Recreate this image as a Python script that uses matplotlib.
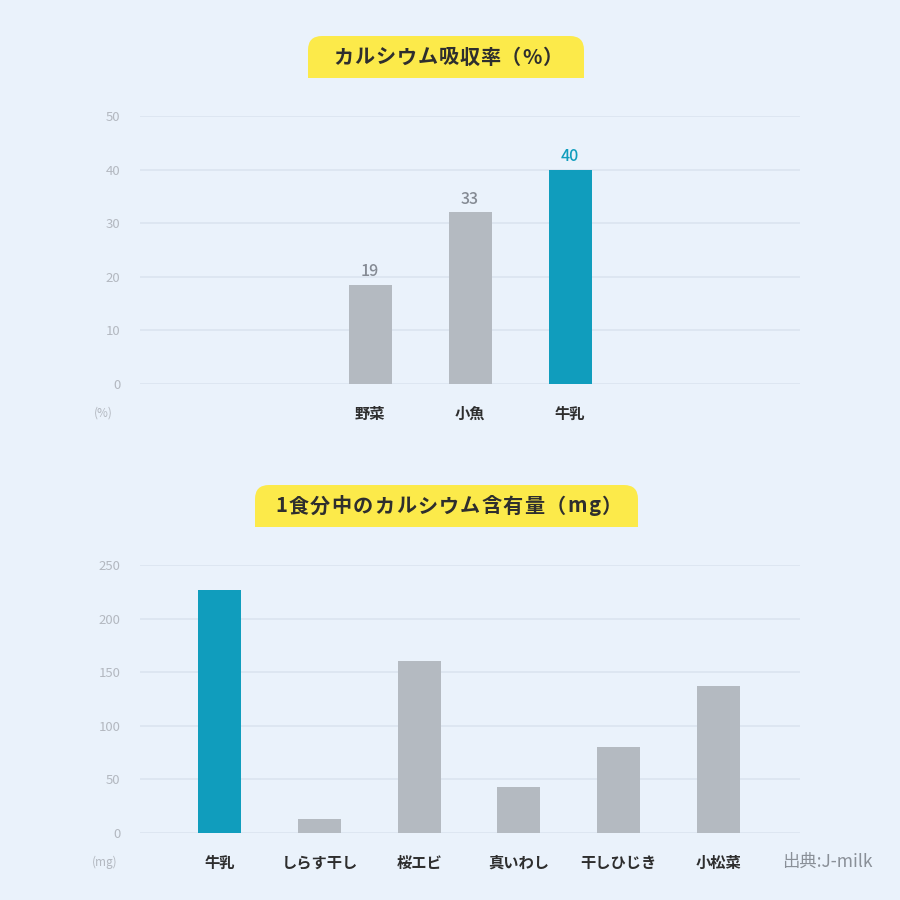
import matplotlib
matplotlib.use('Agg')
import matplotlib.pyplot as plt
from matplotlib.patches import FancyBboxPatch, Rectangle

plt.rcParams['font.family'] = ['Noto Sans CJK JP', 'DejaVu Sans']

# data
rate_cats = ['野菜', '小魚', '牛乳']
rate_vals = [18.5, 32, 40]
rate_labels = ['19', '33', '40']
rate_ticks = [0, 10, 20, 30, 40, 50]

mg_cats = ['牛乳', 'しらす干し', '桜エビ', '真いわし', '干しひじき', '小松菜']
mg_vals = [227, 13, 160, 43, 80, 137]
mg_ticks = [0, 50, 100, 150, 200, 250]

title1 = 'カルシウム吸収率（%）'
title2 = '1食分中のカルシウム含有量（mg）'
source = '出典:J-milk'

# colors
bg = '#eaf2fb'
teal = '#109dbd'
grey = '#b4bac1'
grid_c = '#dbe4ef'
tick_c = '#b3b8c0'
dark = '#2e2e2e'
yellow = '#fcea4a'

W = 900
fig = plt.figure(figsize=(9, 9), dpi=100, facecolor=bg)
renderer = fig.canvas.get_renderer()


def px(x, y):
    return x / W, 1 - y / W


def spaced_text(cx, cy, text, track, **kw):
    # draw char by char with extra tracking (pixels), centred on cx
    items = []
    for ch in text:
        t = fig.text(0, cy, ch, ha='left', va='center', **kw)
        w = t.get_window_extent(renderer).width
        items.append((t, w))
    total = sum(w for _, w in items) + track * (len(items) - 1)
    x = cx * W - total / 2
    for t, w in items:
        t.set_x(x / W)
        x += w + track


def title_box(x0, x1, y0, y1, text, track):
    fx0, fy1 = px(x0, y1)
    fx1, fy0 = px(x1, y0)
    w, h = fx1 - fx0, fy0 - fy1
    r = 14 / W
    fig.patches.append(FancyBboxPatch((fx0, fy1), w, h, boxstyle=f'round,pad=0,rounding_size={r}',
                                      transform=fig.transFigure, fc=yellow, ec='none'))
    fig.patches.append(Rectangle((fx0, fy1), w, h / 2, transform=fig.transFigure, fc=yellow, ec='none'))
    spaced_text((fx0 + fx1) / 2 + 2 / W, (fy0 + fy1) / 2, text, track,
                fontsize=14.5, fontweight='bold', color=dark)


def setup_axes(ax, ticks):
    ax.set_facecolor(bg)
    for s in ax.spines.values():
        s.set_visible(False)
    ax.set_ylim(ticks[0], ticks[-1])
    ax.set_yticks(ticks)
    ax.set_yticklabels([str(t) for t in ticks], color=tick_c, fontsize=9.5)
    ax.tick_params(axis='y', length=0, pad=14)
    ax.tick_params(axis='x', length=0, pad=25)
    for t in ticks:
        ax.axhline(t, color=grid_c, lw=1.2, zorder=0)
    ax.set_axisbelow(True)


def cat_labels(ax, cats):
    ax.set_xticks(range(len(cats)))
    ax.set_xticklabels(cats, fontsize=11, fontweight='bold', color=dark)
    for lab in ax.get_xticklabels():
        lab.set_va('baseline')


# top chart
ax1 = fig.add_axes([140 / W, 1 - 384 / W, 660 / W, 268 / W])
setup_axes(ax1, rate_ticks)
x1 = list(range(len(rate_cats)))
colors1 = [grey, grey, teal]
ax1.bar(x1, rate_vals, width=0.43, color=colors1, zorder=2)
ax1.set_xlim(-2.3, 4.3)
cat_labels(ax1, rate_cats)
for xi, v, lab, c in zip(x1, rate_vals, rate_labels, colors1):
    lc = teal if c == teal else '#858b94'
    ax1.text(xi, v + 0.85, lab, ha='center', va='bottom', fontsize=11.5, color=lc, fontweight='medium')
fig.text(103 / W, 1 - 413 / W, '(%)', ha='center', va='center', fontsize=8.5, color=tick_c)

# bottom chart
ax2 = fig.add_axes([140 / W, 1 - 833 / W, 660 / W, 268 / W])
setup_axes(ax2, mg_ticks)
x2 = list(range(len(mg_cats)))
colors2 = [teal] + [grey] * (len(mg_cats) - 1)
ax2.bar(x2, mg_vals, width=0.43, color=colors2, zorder=2)
ax2.set_xlim(-0.8, 5.82)
cat_labels(ax2, mg_cats)
fig.text(105 / W, 1 - 862 / W, '(mg)', ha='center', va='center', fontsize=8.5, color=tick_c)
fig.text(827 / W, 1 - 862 / W, source, ha='center', va='center', fontsize=12.5, color='#8a9098')

title_box(308, 584, 36, 78, title1, 0.8)
title_box(255, 638, 485, 527, title2, 1.3)

fig.savefig('out.png', dpi=100, facecolor=bg)
